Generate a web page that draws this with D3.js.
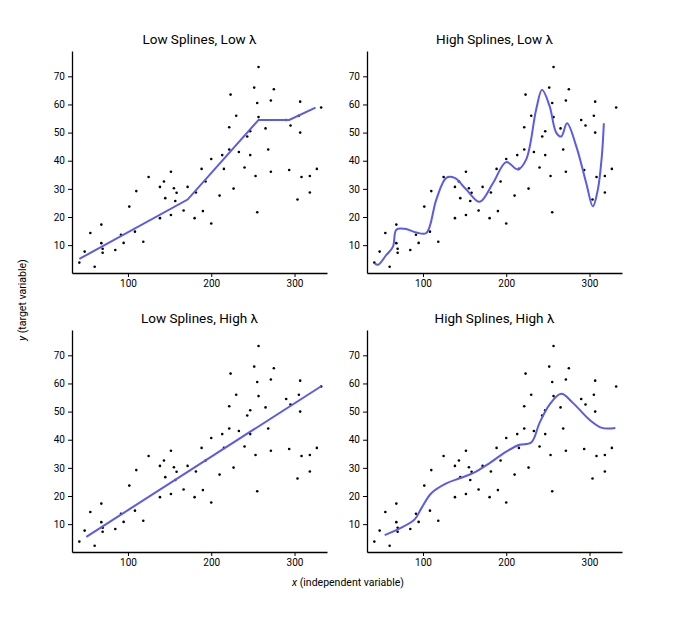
<!DOCTYPE html>
<html><head><meta charset="utf-8">
<script src="https://cdn.jsdelivr.net/npm/d3@7"></script>
<style>body{margin:0;background:#fff}svg{font-family:Roboto,sans-serif}</style>
</head><body>
<script>
const px = [41.6,48,54.8,60,68,68,69.6,69.6,84.8,91.6,94.8,101.6,108.4,110,118.4,124.8,138.4,138.4,143.2,144.8,151.6,151.6,155.2,156.8,158.4,166.8,171.6,180,181.6,188.4,190,193.2,200,200,210,213.2,215.2,221.6,221.6,223.2,226.8,230,233.2,240,243.2,246.8,246.8,251.6,253.2,255.2,255.2,256.8,256.8,265.2,268.4,271.6,271.6,275.2,290,293.6,295.2,303.6,305.2,306.8,306.8,308.4,318.4,318.4,326.8,332];
const py = [3.8,7.7,14.3,2.3,17.3,10.7,8.7,7.3,8.3,13.7,10.8,23.7,14.8,29.2,11.2,34.2,30.7,19.6,32.6,26.7,36.1,20.7,30.2,25.7,28.6,22.3,30.7,19.6,28.7,37.1,22.1,32.6,40.6,17.7,27.6,42,37.1,44,51.9,63.5,30.1,56,43.1,37.6,48.6,50.5,42,66,34.6,60.5,21.7,73.3,55.5,51.5,44,61.4,36.1,65.4,54.5,36.7,52.5,26.2,56,61,50,34.2,34.6,28.7,37.1,58.9];

const fitLowLow = [[41.6,5.1],[171.6,26.2],[256.8,54.5],[293.6,54.5],[325.2,58.9]];
const fitHighLow = [[42,3.6],[46,3],[56,6.5],[64,9.5],[68,15.5],[78,15.8],[92,14.5],[104,14.3],[116,26.2],[128,33.9],[138,33.9],[152,29.8],[168,25.4],[184,32],[200,39.5],[214,36.9],[224,40.5],[236,58.3],[243,65.2],[252,59.5],[260,50],[266,48.6],[273,53.3],[284,45.2],[296,32.1],[304,23.8],[310,29.8],[314.8,41.7],[317.2,53.3]];
const fitLowHigh = [[50,5.5],[332,59]];
const fitHighHigh = [[54,6.1],[72,8.5],[90,11.7],[98,15.6],[110,21],[128,24.5],[144,26.3],[160,28.1],[180,31.7],[200,35.8],[216,38.2],[230,39],[240,46],[252,52.5],[266,56.3],[280,53.1],[300,47.1],[315,44.2],[331,44.2]];

const titles = ["Low Splines, Low λ","High Splines, Low λ","Low Splines, High λ","High Splines, High λ"];
const fits = [fitLowLow, fitHighLow, fitLowHigh, fitHighHigh];
const curved = [false, true, false, true];
const xTicks = [100,200,300];
const yTicks = [10,20,30,40,50,60,70];

const svg = d3.select("body").append("svg").attr("width",674).attr("height",621);
const pw = 255, ph = 222;
const origins = [[72,51],[367,51],[72,330],[367,330]];
const pts = px.map((x,i)=>({x, y:py[i]}));

origins.forEach(([ox,oy],k)=>{
  const x = d3.scaleLinear().domain([32.8,339]).range([0,pw]);
  const y = d3.scaleLinear().domain([0.1,79]).range([ph,0]);
  const g = svg.append("g").attr("transform",`translate(${ox},${oy})`);
  g.append("g").attr("transform",`translate(0,${ph})`)
    .call(d3.axisBottom(x).tickValues(xTicks).tickSize(4).tickSizeOuter(0))
    .call(a=>a.selectAll("text").attr("font-size",10).attr("font-family","Roboto"));
  g.append("g")
    .call(d3.axisLeft(y).tickValues(yTicks).tickSize(4).tickSizeOuter(0))
    .call(a=>a.selectAll("text").attr("font-size",10).attr("font-family","Roboto"));
  g.selectAll(".domain").attr("stroke-width",1.3);
  g.selectAll("circle").data(pts).join("circle")
    .attr("cx",d=>x(d.x)).attr("cy",d=>y(d.y)).attr("r",1.3).attr("fill","#000");
  const line = d3.line().x(d=>x(d[0])).y(d=>y(d[1]))
    .curve(curved[k] ? d3.curveCatmullRom : d3.curveLinear);
  g.append("path").datum(fits[k]).attr("d",line)
    .attr("fill","none").attr("stroke","#5a5aec").attr("stroke-width",2);
  g.append("text").attr("x",pw/2).attr("y",-7).attr("text-anchor","middle")
    .attr("font-size",13.5).text(titles[k]);
});

svg.append("text").attr("transform","translate(26,300) rotate(-90)")
  .attr("text-anchor","middle").attr("font-size",10.5)
  .html('<tspan font-style="italic">y</tspan> (target variable)');
svg.append("text").attr("x",348).attr("y",586).attr("text-anchor","middle")
  .attr("font-size",10.5)
  .html('<tspan font-style="italic">x</tspan> (independent variable)');
</script>
</body></html>
